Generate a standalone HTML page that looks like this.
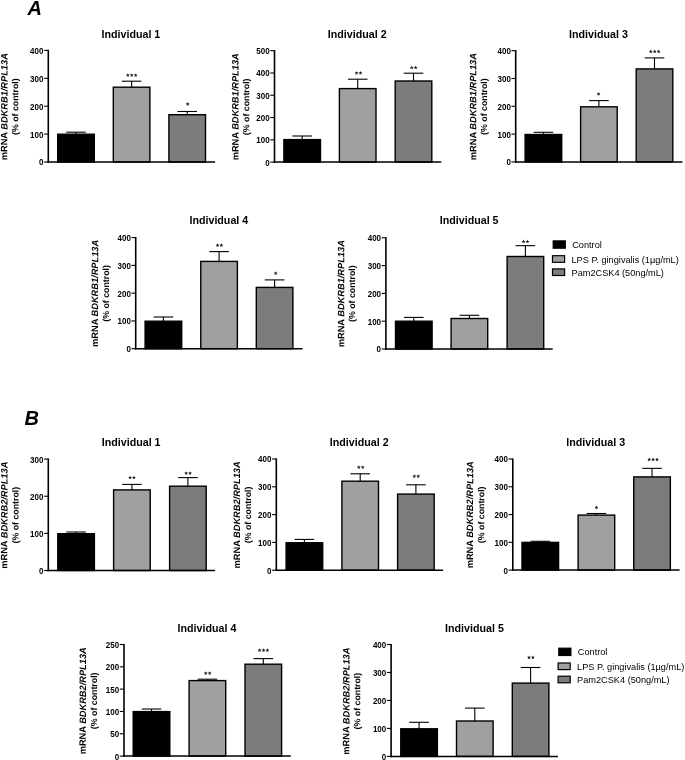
<!DOCTYPE html>
<html><head><meta charset="utf-8"><style>
html,body{margin:0;padding:0;background:#fff;overflow:hidden;}
svg{display:block;will-change:transform;}
text{font-family:"Liberation Sans", sans-serif;fill:#000;}
.tk{font-size:8.6px;font-weight:bold;}
.ti{font-size:10.7px;font-weight:bold;}
.yl1{font-size:9.25px;font-weight:bold;}
.yl2{font-size:8.8px;font-weight:bold;}
.st{font-size:9.5px;fill:#333;}
.lg{font-size:9.2px;}
.pl{font-size:20px;font-weight:bold;font-style:italic;}
</style></head><body>
<svg width="685" height="760" viewBox="0 0 685 760">
<rect width="685" height="760" fill="#fff"/>
<text x="27.4" y="15.2" class="pl">A</text>
<text x="24.4" y="424.8" class="pl">B</text>
<line x1="76.00" y1="134.20" x2="76.00" y2="132.20" stroke="#000" stroke-width="1.1"/>
<line x1="66.20" y1="132.20" x2="85.80" y2="132.20" stroke="#000" stroke-width="1.1"/>
<rect x="57.70" y="134.20" width="36.60" height="27.80" fill="#000000" stroke="#000" stroke-width="1.4"/>
<line x1="131.60" y1="87.20" x2="131.60" y2="81.20" stroke="#000" stroke-width="1.1"/>
<line x1="121.80" y1="81.20" x2="141.40" y2="81.20" stroke="#000" stroke-width="1.1"/>
<rect x="113.30" y="87.20" width="36.60" height="74.80" fill="#a0a0a0" stroke="#000" stroke-width="1.4"/>
<polygon points="127.85,73.15 128.41,74.43 129.80,74.57 128.75,75.49 129.05,76.86 127.85,76.15 126.65,76.86 126.95,75.49 125.90,74.57 127.29,74.43" fill="#222"/>
<polygon points="131.75,73.15 132.31,74.43 133.70,74.57 132.65,75.49 132.95,76.86 131.75,76.15 130.55,76.86 130.85,75.49 129.80,74.57 131.19,74.43" fill="#222"/>
<polygon points="135.65,73.15 136.21,74.43 137.60,74.57 136.55,75.49 136.85,76.86 135.65,76.15 134.45,76.86 134.75,75.49 133.70,74.57 135.09,74.43" fill="#222"/>
<line x1="187.20" y1="114.70" x2="187.20" y2="111.50" stroke="#000" stroke-width="1.1"/>
<line x1="177.40" y1="111.50" x2="197.00" y2="111.50" stroke="#000" stroke-width="1.1"/>
<rect x="168.90" y="114.70" width="36.60" height="47.30" fill="#7c7c7c" stroke="#000" stroke-width="1.4"/>
<polygon points="187.70,102.05 188.26,103.33 189.65,103.47 188.60,104.39 188.90,105.76 187.70,105.05 186.50,105.76 186.80,104.39 185.75,103.47 187.14,103.33" fill="#222"/>
<line x1="48.30" y1="49.80" x2="48.30" y2="162.80" stroke="#000" stroke-width="1.6"/>
<line x1="47.50" y1="162.00" x2="215.10" y2="162.00" stroke="#000" stroke-width="1.5"/>
<line x1="44.10" y1="162.00" x2="48.30" y2="162.00" stroke="#000" stroke-width="1.1"/>
<text x="43.45" y="165.40" text-anchor="end" class="tk" textLength="4.45" lengthAdjust="spacingAndGlyphs">0</text>
<line x1="44.10" y1="134.10" x2="48.30" y2="134.10" stroke="#000" stroke-width="1.1"/>
<text x="43.45" y="137.50" text-anchor="end" class="tk" textLength="13.34" lengthAdjust="spacingAndGlyphs">100</text>
<line x1="44.10" y1="106.20" x2="48.30" y2="106.20" stroke="#000" stroke-width="1.1"/>
<text x="43.45" y="109.60" text-anchor="end" class="tk" textLength="13.34" lengthAdjust="spacingAndGlyphs">200</text>
<line x1="44.10" y1="78.30" x2="48.30" y2="78.30" stroke="#000" stroke-width="1.1"/>
<text x="43.45" y="81.70" text-anchor="end" class="tk" textLength="13.34" lengthAdjust="spacingAndGlyphs">300</text>
<line x1="44.10" y1="50.40" x2="48.30" y2="50.40" stroke="#000" stroke-width="1.1"/>
<text x="43.45" y="53.80" text-anchor="end" class="tk" textLength="13.34" lengthAdjust="spacingAndGlyphs">400</text>
<text x="130.90" y="38.20" text-anchor="middle" class="ti">Individual 1</text>
<text transform="translate(7.40,106.70) rotate(-89.95)" text-anchor="middle" class="yl1">mRNA <tspan font-style="italic">BDKRB1/RPL13A</tspan></text>
<text transform="translate(18.30,106.70) rotate(-89.95)" text-anchor="middle" class="yl2">(% of control)</text>
<line x1="302.20" y1="139.60" x2="302.20" y2="136.00" stroke="#000" stroke-width="1.1"/>
<line x1="292.40" y1="136.00" x2="312.00" y2="136.00" stroke="#000" stroke-width="1.1"/>
<rect x="283.90" y="139.60" width="36.60" height="22.50" fill="#000000" stroke="#000" stroke-width="1.4"/>
<line x1="357.70" y1="88.60" x2="357.70" y2="79.20" stroke="#000" stroke-width="1.1"/>
<line x1="347.90" y1="79.20" x2="367.50" y2="79.20" stroke="#000" stroke-width="1.1"/>
<rect x="339.40" y="88.60" width="36.60" height="73.50" fill="#a0a0a0" stroke="#000" stroke-width="1.4"/>
<polygon points="356.55,71.00 357.11,72.28 358.50,72.42 357.45,73.34 357.75,74.71 356.55,74.00 355.35,74.71 355.65,73.34 354.60,72.42 355.99,72.28" fill="#222"/>
<polygon points="360.45,71.00 361.01,72.28 362.40,72.42 361.35,73.34 361.65,74.71 360.45,74.00 359.25,74.71 359.55,73.34 358.50,72.42 359.89,72.28" fill="#222"/>
<line x1="413.50" y1="81.00" x2="413.50" y2="73.20" stroke="#000" stroke-width="1.1"/>
<line x1="403.70" y1="73.20" x2="423.30" y2="73.20" stroke="#000" stroke-width="1.1"/>
<rect x="395.20" y="81.00" width="36.60" height="81.10" fill="#7c7c7c" stroke="#000" stroke-width="1.4"/>
<polygon points="411.75,65.60 412.31,66.88 413.70,67.02 412.65,67.94 412.95,69.31 411.75,68.60 410.55,69.31 410.85,67.94 409.80,67.02 411.19,66.88" fill="#222"/>
<polygon points="415.65,65.60 416.21,66.88 417.60,67.02 416.55,67.94 416.85,69.31 415.65,68.60 414.45,69.31 414.75,67.94 413.70,67.02 415.09,66.88" fill="#222"/>
<line x1="274.50" y1="50.10" x2="274.50" y2="162.90" stroke="#000" stroke-width="1.6"/>
<line x1="273.70" y1="162.10" x2="441.30" y2="162.10" stroke="#000" stroke-width="1.5"/>
<line x1="270.30" y1="162.10" x2="274.50" y2="162.10" stroke="#000" stroke-width="1.1"/>
<text x="269.65" y="165.50" text-anchor="end" class="tk" textLength="4.45" lengthAdjust="spacingAndGlyphs">0</text>
<line x1="270.30" y1="139.82" x2="274.50" y2="139.82" stroke="#000" stroke-width="1.1"/>
<text x="269.65" y="143.22" text-anchor="end" class="tk" textLength="13.34" lengthAdjust="spacingAndGlyphs">100</text>
<line x1="270.30" y1="117.54" x2="274.50" y2="117.54" stroke="#000" stroke-width="1.1"/>
<text x="269.65" y="120.94" text-anchor="end" class="tk" textLength="13.34" lengthAdjust="spacingAndGlyphs">200</text>
<line x1="270.30" y1="95.26" x2="274.50" y2="95.26" stroke="#000" stroke-width="1.1"/>
<text x="269.65" y="98.66" text-anchor="end" class="tk" textLength="13.34" lengthAdjust="spacingAndGlyphs">300</text>
<line x1="270.30" y1="72.98" x2="274.50" y2="72.98" stroke="#000" stroke-width="1.1"/>
<text x="269.65" y="76.38" text-anchor="end" class="tk" textLength="13.34" lengthAdjust="spacingAndGlyphs">400</text>
<line x1="270.30" y1="50.70" x2="274.50" y2="50.70" stroke="#000" stroke-width="1.1"/>
<text x="269.65" y="54.10" text-anchor="end" class="tk" textLength="13.34" lengthAdjust="spacingAndGlyphs">500</text>
<text x="357.25" y="38.20" text-anchor="middle" class="ti">Individual 2</text>
<text transform="translate(238.50,106.80) rotate(-89.95)" text-anchor="middle" class="yl1">mRNA <tspan font-style="italic">BDKRB1/RPL13A</tspan></text>
<text transform="translate(249.30,106.80) rotate(-89.95)" text-anchor="middle" class="yl2">(% of control)</text>
<line x1="543.40" y1="134.50" x2="543.40" y2="132.30" stroke="#000" stroke-width="1.1"/>
<line x1="533.60" y1="132.30" x2="553.20" y2="132.30" stroke="#000" stroke-width="1.1"/>
<rect x="525.10" y="134.50" width="36.60" height="27.40" fill="#000000" stroke="#000" stroke-width="1.4"/>
<line x1="598.90" y1="106.80" x2="598.90" y2="100.60" stroke="#000" stroke-width="1.1"/>
<line x1="589.10" y1="100.60" x2="608.70" y2="100.60" stroke="#000" stroke-width="1.1"/>
<rect x="580.60" y="106.80" width="36.60" height="55.10" fill="#a0a0a0" stroke="#000" stroke-width="1.4"/>
<polygon points="598.60,91.90 599.16,93.18 600.55,93.32 599.50,94.24 599.80,95.61 598.60,94.90 597.40,95.61 597.70,94.24 596.65,93.32 598.04,93.18" fill="#222"/>
<line x1="654.50" y1="68.90" x2="654.50" y2="57.90" stroke="#000" stroke-width="1.1"/>
<line x1="644.70" y1="57.90" x2="664.30" y2="57.90" stroke="#000" stroke-width="1.1"/>
<rect x="636.20" y="68.90" width="36.60" height="93.00" fill="#7c7c7c" stroke="#000" stroke-width="1.4"/>
<polygon points="650.80,49.50 651.36,50.78 652.75,50.92 651.70,51.84 652.00,53.21 650.80,52.50 649.60,53.21 649.90,51.84 648.85,50.92 650.24,50.78" fill="#222"/>
<polygon points="654.70,49.50 655.26,50.78 656.65,50.92 655.60,51.84 655.90,53.21 654.70,52.50 653.50,53.21 653.80,51.84 652.75,50.92 654.14,50.78" fill="#222"/>
<polygon points="658.60,49.50 659.16,50.78 660.55,50.92 659.50,51.84 659.80,53.21 658.60,52.50 657.40,53.21 657.70,51.84 656.65,50.92 658.04,50.78" fill="#222"/>
<line x1="515.70" y1="50.10" x2="515.70" y2="162.70" stroke="#000" stroke-width="1.6"/>
<line x1="514.90" y1="161.90" x2="682.50" y2="161.90" stroke="#000" stroke-width="1.5"/>
<line x1="511.50" y1="161.90" x2="515.70" y2="161.90" stroke="#000" stroke-width="1.1"/>
<text x="510.85" y="165.30" text-anchor="end" class="tk" textLength="4.45" lengthAdjust="spacingAndGlyphs">0</text>
<line x1="511.50" y1="134.10" x2="515.70" y2="134.10" stroke="#000" stroke-width="1.1"/>
<text x="510.85" y="137.50" text-anchor="end" class="tk" textLength="13.34" lengthAdjust="spacingAndGlyphs">100</text>
<line x1="511.50" y1="106.30" x2="515.70" y2="106.30" stroke="#000" stroke-width="1.1"/>
<text x="510.85" y="109.70" text-anchor="end" class="tk" textLength="13.34" lengthAdjust="spacingAndGlyphs">200</text>
<line x1="511.50" y1="78.50" x2="515.70" y2="78.50" stroke="#000" stroke-width="1.1"/>
<text x="510.85" y="81.90" text-anchor="end" class="tk" textLength="13.34" lengthAdjust="spacingAndGlyphs">300</text>
<line x1="511.50" y1="50.70" x2="515.70" y2="50.70" stroke="#000" stroke-width="1.1"/>
<text x="510.85" y="54.10" text-anchor="end" class="tk" textLength="13.34" lengthAdjust="spacingAndGlyphs">400</text>
<text x="598.50" y="38.20" text-anchor="middle" class="ti">Individual 3</text>
<text transform="translate(476.20,106.60) rotate(-89.95)" text-anchor="middle" class="yl1">mRNA <tspan font-style="italic">BDKRB1/RPL13A</tspan></text>
<text transform="translate(487.00,106.60) rotate(-89.95)" text-anchor="middle" class="yl2">(% of control)</text>
<line x1="163.40" y1="321.20" x2="163.40" y2="317.00" stroke="#000" stroke-width="1.1"/>
<line x1="153.60" y1="317.00" x2="173.20" y2="317.00" stroke="#000" stroke-width="1.1"/>
<rect x="145.10" y="321.20" width="36.60" height="27.50" fill="#000000" stroke="#000" stroke-width="1.4"/>
<line x1="219.07" y1="261.40" x2="219.07" y2="251.60" stroke="#000" stroke-width="1.1"/>
<line x1="209.27" y1="251.60" x2="228.87" y2="251.60" stroke="#000" stroke-width="1.1"/>
<rect x="200.77" y="261.40" width="36.60" height="87.30" fill="#a0a0a0" stroke="#000" stroke-width="1.4"/>
<polygon points="217.50,243.30 218.06,244.58 219.45,244.72 218.40,245.64 218.70,247.01 217.50,246.30 216.30,247.01 216.60,245.64 215.55,244.72 216.94,244.58" fill="#222"/>
<polygon points="221.40,243.30 221.96,244.58 223.35,244.72 222.30,245.64 222.60,247.01 221.40,246.30 220.20,247.01 220.50,245.64 219.45,244.72 220.84,244.58" fill="#222"/>
<line x1="274.60" y1="287.40" x2="274.60" y2="279.90" stroke="#000" stroke-width="1.1"/>
<line x1="264.80" y1="279.90" x2="284.40" y2="279.90" stroke="#000" stroke-width="1.1"/>
<rect x="256.30" y="287.40" width="36.60" height="61.30" fill="#7c7c7c" stroke="#000" stroke-width="1.4"/>
<polygon points="275.70,271.25 276.26,272.53 277.65,272.67 276.60,273.59 276.90,274.96 275.70,274.25 274.50,274.96 274.80,273.59 273.75,272.67 275.14,272.53" fill="#222"/>
<line x1="135.70" y1="237.00" x2="135.70" y2="349.50" stroke="#000" stroke-width="1.6"/>
<line x1="134.90" y1="348.70" x2="302.50" y2="348.70" stroke="#000" stroke-width="1.5"/>
<line x1="131.50" y1="348.70" x2="135.70" y2="348.70" stroke="#000" stroke-width="1.1"/>
<text x="130.85" y="352.10" text-anchor="end" class="tk" textLength="4.45" lengthAdjust="spacingAndGlyphs">0</text>
<line x1="131.50" y1="320.93" x2="135.70" y2="320.93" stroke="#000" stroke-width="1.1"/>
<text x="130.85" y="324.32" text-anchor="end" class="tk" textLength="13.34" lengthAdjust="spacingAndGlyphs">100</text>
<line x1="131.50" y1="293.15" x2="135.70" y2="293.15" stroke="#000" stroke-width="1.1"/>
<text x="130.85" y="296.55" text-anchor="end" class="tk" textLength="13.34" lengthAdjust="spacingAndGlyphs">200</text>
<line x1="131.50" y1="265.38" x2="135.70" y2="265.38" stroke="#000" stroke-width="1.1"/>
<text x="130.85" y="268.77" text-anchor="end" class="tk" textLength="13.34" lengthAdjust="spacingAndGlyphs">300</text>
<line x1="131.50" y1="237.60" x2="135.70" y2="237.60" stroke="#000" stroke-width="1.1"/>
<text x="130.85" y="241.00" text-anchor="end" class="tk" textLength="13.34" lengthAdjust="spacingAndGlyphs">400</text>
<text x="218.85" y="224.30" text-anchor="middle" class="ti">Individual 4</text>
<text transform="translate(98.10,293.40) rotate(-89.95)" text-anchor="middle" class="yl1">mRNA <tspan font-style="italic">BDKRB1/RPL13A</tspan></text>
<text transform="translate(109.10,293.40) rotate(-89.95)" text-anchor="middle" class="yl2">(% of control)</text>
<line x1="413.80" y1="321.20" x2="413.80" y2="317.40" stroke="#000" stroke-width="1.1"/>
<line x1="404.00" y1="317.40" x2="423.60" y2="317.40" stroke="#000" stroke-width="1.1"/>
<rect x="395.50" y="321.20" width="36.60" height="27.80" fill="#000000" stroke="#000" stroke-width="1.4"/>
<line x1="469.40" y1="318.50" x2="469.40" y2="315.30" stroke="#000" stroke-width="1.1"/>
<line x1="459.60" y1="315.30" x2="479.20" y2="315.30" stroke="#000" stroke-width="1.1"/>
<rect x="451.10" y="318.50" width="36.60" height="30.50" fill="#a0a0a0" stroke="#000" stroke-width="1.4"/>
<line x1="525.40" y1="256.50" x2="525.40" y2="245.66" stroke="#000" stroke-width="1.1"/>
<line x1="515.60" y1="245.66" x2="535.20" y2="245.66" stroke="#000" stroke-width="1.1"/>
<rect x="507.10" y="256.50" width="36.60" height="92.50" fill="#7c7c7c" stroke="#000" stroke-width="1.4"/>
<polygon points="523.55,239.60 524.11,240.88 525.50,241.02 524.45,241.94 524.75,243.31 523.55,242.60 522.35,243.31 522.65,241.94 521.60,241.02 522.99,240.88" fill="#222"/>
<polygon points="527.45,239.60 528.01,240.88 529.40,241.02 528.35,241.94 528.65,243.31 527.45,242.60 526.25,243.31 526.55,241.94 525.50,241.02 526.89,240.88" fill="#222"/>
<line x1="385.90" y1="237.20" x2="385.90" y2="349.80" stroke="#000" stroke-width="1.6"/>
<line x1="385.10" y1="349.00" x2="552.70" y2="349.00" stroke="#000" stroke-width="1.5"/>
<line x1="381.70" y1="349.00" x2="385.90" y2="349.00" stroke="#000" stroke-width="1.1"/>
<text x="381.05" y="352.40" text-anchor="end" class="tk" textLength="4.45" lengthAdjust="spacingAndGlyphs">0</text>
<line x1="381.70" y1="321.20" x2="385.90" y2="321.20" stroke="#000" stroke-width="1.1"/>
<text x="381.05" y="324.60" text-anchor="end" class="tk" textLength="13.34" lengthAdjust="spacingAndGlyphs">100</text>
<line x1="381.70" y1="293.40" x2="385.90" y2="293.40" stroke="#000" stroke-width="1.1"/>
<text x="381.05" y="296.80" text-anchor="end" class="tk" textLength="13.34" lengthAdjust="spacingAndGlyphs">200</text>
<line x1="381.70" y1="265.60" x2="385.90" y2="265.60" stroke="#000" stroke-width="1.1"/>
<text x="381.05" y="269.00" text-anchor="end" class="tk" textLength="13.34" lengthAdjust="spacingAndGlyphs">300</text>
<line x1="381.70" y1="237.80" x2="385.90" y2="237.80" stroke="#000" stroke-width="1.1"/>
<text x="381.05" y="241.20" text-anchor="end" class="tk" textLength="13.34" lengthAdjust="spacingAndGlyphs">400</text>
<text x="469.15" y="224.30" text-anchor="middle" class="ti">Individual 5</text>
<text transform="translate(344.20,293.70) rotate(-89.95)" text-anchor="middle" class="yl1">mRNA <tspan font-style="italic">BDKRB1/RPL13A</tspan></text>
<text transform="translate(355.00,293.70) rotate(-89.95)" text-anchor="middle" class="yl2">(% of control)</text>
<line x1="76.10" y1="533.70" x2="76.10" y2="532.00" stroke="#000" stroke-width="1.1"/>
<line x1="66.30" y1="532.00" x2="85.90" y2="532.00" stroke="#000" stroke-width="1.1"/>
<rect x="57.80" y="533.70" width="36.60" height="36.80" fill="#000000" stroke="#000" stroke-width="1.4"/>
<line x1="131.90" y1="489.90" x2="131.90" y2="484.40" stroke="#000" stroke-width="1.1"/>
<line x1="122.10" y1="484.40" x2="141.70" y2="484.40" stroke="#000" stroke-width="1.1"/>
<rect x="113.60" y="489.90" width="36.60" height="80.60" fill="#a0a0a0" stroke="#000" stroke-width="1.4"/>
<polygon points="130.05,475.60 130.61,476.88 132.00,477.02 130.95,477.94 131.25,479.31 130.05,478.60 128.85,479.31 129.15,477.94 128.10,477.02 129.49,476.88" fill="#222"/>
<polygon points="133.95,475.60 134.51,476.88 135.90,477.02 134.85,477.94 135.15,479.31 133.95,478.60 132.75,479.31 133.05,477.94 132.00,477.02 133.39,476.88" fill="#222"/>
<line x1="187.90" y1="486.20" x2="187.90" y2="477.60" stroke="#000" stroke-width="1.1"/>
<line x1="178.10" y1="477.60" x2="197.70" y2="477.60" stroke="#000" stroke-width="1.1"/>
<rect x="169.60" y="486.20" width="36.60" height="84.30" fill="#7c7c7c" stroke="#000" stroke-width="1.4"/>
<polygon points="186.15,471.15 186.71,472.43 188.10,472.57 187.05,473.49 187.35,474.86 186.15,474.15 184.95,474.86 185.25,473.49 184.20,472.57 185.59,472.43" fill="#222"/>
<polygon points="190.05,471.15 190.61,472.43 192.00,472.57 190.95,473.49 191.25,474.86 190.05,474.15 188.85,474.86 189.15,473.49 188.10,472.57 189.49,472.43" fill="#222"/>
<line x1="48.30" y1="458.50" x2="48.30" y2="571.30" stroke="#000" stroke-width="1.6"/>
<line x1="47.50" y1="570.50" x2="215.10" y2="570.50" stroke="#000" stroke-width="1.5"/>
<line x1="44.10" y1="570.50" x2="48.30" y2="570.50" stroke="#000" stroke-width="1.1"/>
<text x="43.45" y="573.90" text-anchor="end" class="tk" textLength="4.45" lengthAdjust="spacingAndGlyphs">0</text>
<line x1="44.10" y1="533.37" x2="48.30" y2="533.37" stroke="#000" stroke-width="1.1"/>
<text x="43.45" y="536.77" text-anchor="end" class="tk" textLength="13.34" lengthAdjust="spacingAndGlyphs">100</text>
<line x1="44.10" y1="496.23" x2="48.30" y2="496.23" stroke="#000" stroke-width="1.1"/>
<text x="43.45" y="499.63" text-anchor="end" class="tk" textLength="13.34" lengthAdjust="spacingAndGlyphs">200</text>
<line x1="44.10" y1="459.10" x2="48.30" y2="459.10" stroke="#000" stroke-width="1.1"/>
<text x="43.45" y="462.50" text-anchor="end" class="tk" textLength="13.34" lengthAdjust="spacingAndGlyphs">300</text>
<text x="131.15" y="446.20" text-anchor="middle" class="ti">Individual 1</text>
<text transform="translate(7.40,515.20) rotate(-89.95)" text-anchor="middle" class="yl1">mRNA <tspan font-style="italic">BDKRB2/RPL13A</tspan></text>
<text transform="translate(18.50,515.20) rotate(-89.95)" text-anchor="middle" class="yl2">(% of control)</text>
<line x1="304.40" y1="542.75" x2="304.40" y2="539.40" stroke="#000" stroke-width="1.1"/>
<line x1="294.60" y1="539.40" x2="314.20" y2="539.40" stroke="#000" stroke-width="1.1"/>
<rect x="286.10" y="542.75" width="36.60" height="27.45" fill="#000000" stroke="#000" stroke-width="1.4"/>
<line x1="360.20" y1="481.20" x2="360.20" y2="473.80" stroke="#000" stroke-width="1.1"/>
<line x1="350.40" y1="473.80" x2="370.00" y2="473.80" stroke="#000" stroke-width="1.1"/>
<rect x="341.90" y="481.20" width="36.60" height="89.00" fill="#a0a0a0" stroke="#000" stroke-width="1.4"/>
<polygon points="358.80,465.15 359.36,466.43 360.75,466.57 359.70,467.49 360.00,468.86 358.80,468.15 357.60,468.86 357.90,467.49 356.85,466.57 358.24,466.43" fill="#222"/>
<polygon points="362.70,465.15 363.26,466.43 364.65,466.57 363.60,467.49 363.90,468.86 362.70,468.15 361.50,468.86 361.80,467.49 360.75,466.57 362.14,466.43" fill="#222"/>
<line x1="415.90" y1="494.10" x2="415.90" y2="484.80" stroke="#000" stroke-width="1.1"/>
<line x1="406.10" y1="484.80" x2="425.70" y2="484.80" stroke="#000" stroke-width="1.1"/>
<rect x="397.60" y="494.10" width="36.60" height="76.10" fill="#7c7c7c" stroke="#000" stroke-width="1.4"/>
<polygon points="414.30,474.20 414.86,475.48 416.25,475.62 415.20,476.54 415.50,477.91 414.30,477.20 413.10,477.91 413.40,476.54 412.35,475.62 413.74,475.48" fill="#222"/>
<polygon points="418.20,474.20 418.76,475.48 420.15,475.62 419.10,476.54 419.40,477.91 418.20,477.20 417.00,477.91 417.30,476.54 416.25,475.62 417.64,475.48" fill="#222"/>
<line x1="276.30" y1="458.40" x2="276.30" y2="571.00" stroke="#000" stroke-width="1.6"/>
<line x1="275.50" y1="570.20" x2="443.10" y2="570.20" stroke="#000" stroke-width="1.5"/>
<line x1="272.10" y1="570.20" x2="276.30" y2="570.20" stroke="#000" stroke-width="1.1"/>
<text x="271.45" y="573.60" text-anchor="end" class="tk" textLength="4.45" lengthAdjust="spacingAndGlyphs">0</text>
<line x1="272.10" y1="542.40" x2="276.30" y2="542.40" stroke="#000" stroke-width="1.1"/>
<text x="271.45" y="545.80" text-anchor="end" class="tk" textLength="13.34" lengthAdjust="spacingAndGlyphs">100</text>
<line x1="272.10" y1="514.60" x2="276.30" y2="514.60" stroke="#000" stroke-width="1.1"/>
<text x="271.45" y="518.00" text-anchor="end" class="tk" textLength="13.34" lengthAdjust="spacingAndGlyphs">200</text>
<line x1="272.10" y1="486.80" x2="276.30" y2="486.80" stroke="#000" stroke-width="1.1"/>
<text x="271.45" y="490.20" text-anchor="end" class="tk" textLength="13.34" lengthAdjust="spacingAndGlyphs">300</text>
<line x1="272.10" y1="459.00" x2="276.30" y2="459.00" stroke="#000" stroke-width="1.1"/>
<text x="271.45" y="462.40" text-anchor="end" class="tk" textLength="13.34" lengthAdjust="spacingAndGlyphs">400</text>
<text x="359.25" y="446.20" text-anchor="middle" class="ti">Individual 2</text>
<text transform="translate(240.00,514.90) rotate(-89.95)" text-anchor="middle" class="yl1">mRNA <tspan font-style="italic">BDKRB2/RPL13A</tspan></text>
<text transform="translate(251.10,514.90) rotate(-89.95)" text-anchor="middle" class="yl2">(% of control)</text>
<line x1="540.30" y1="542.40" x2="540.30" y2="541.30" stroke="#000" stroke-width="1.1"/>
<line x1="530.50" y1="541.30" x2="550.10" y2="541.30" stroke="#000" stroke-width="1.1"/>
<rect x="522.00" y="542.40" width="36.60" height="27.70" fill="#000000" stroke="#000" stroke-width="1.4"/>
<line x1="596.40" y1="515.10" x2="596.40" y2="513.50" stroke="#000" stroke-width="1.1"/>
<line x1="586.60" y1="513.50" x2="606.20" y2="513.50" stroke="#000" stroke-width="1.1"/>
<rect x="578.10" y="515.10" width="36.60" height="55.00" fill="#a0a0a0" stroke="#000" stroke-width="1.4"/>
<polygon points="596.50,505.50 597.06,506.78 598.45,506.92 597.40,507.84 597.70,509.21 596.50,508.50 595.30,509.21 595.60,507.84 594.55,506.92 595.94,506.78" fill="#222"/>
<line x1="652.05" y1="476.90" x2="652.05" y2="468.35" stroke="#000" stroke-width="1.1"/>
<line x1="642.25" y1="468.35" x2="661.85" y2="468.35" stroke="#000" stroke-width="1.1"/>
<rect x="633.75" y="476.90" width="36.60" height="93.20" fill="#7c7c7c" stroke="#000" stroke-width="1.4"/>
<polygon points="649.20,457.50 649.76,458.78 651.15,458.92 650.10,459.84 650.40,461.21 649.20,460.50 648.00,461.21 648.30,459.84 647.25,458.92 648.64,458.78" fill="#222"/>
<polygon points="653.10,457.50 653.66,458.78 655.05,458.92 654.00,459.84 654.30,461.21 653.10,460.50 651.90,461.21 652.20,459.84 651.15,458.92 652.54,458.78" fill="#222"/>
<polygon points="657.00,457.50 657.56,458.78 658.95,458.92 657.90,459.84 658.20,461.21 657.00,460.50 655.80,461.21 656.10,459.84 655.05,458.92 656.44,458.78" fill="#222"/>
<line x1="512.80" y1="458.40" x2="512.80" y2="570.90" stroke="#000" stroke-width="1.6"/>
<line x1="512.00" y1="570.10" x2="679.60" y2="570.10" stroke="#000" stroke-width="1.5"/>
<line x1="508.60" y1="570.10" x2="512.80" y2="570.10" stroke="#000" stroke-width="1.1"/>
<text x="507.95" y="573.50" text-anchor="end" class="tk" textLength="4.45" lengthAdjust="spacingAndGlyphs">0</text>
<line x1="508.60" y1="542.33" x2="512.80" y2="542.33" stroke="#000" stroke-width="1.1"/>
<text x="507.95" y="545.73" text-anchor="end" class="tk" textLength="13.34" lengthAdjust="spacingAndGlyphs">100</text>
<line x1="508.60" y1="514.55" x2="512.80" y2="514.55" stroke="#000" stroke-width="1.1"/>
<text x="507.95" y="517.95" text-anchor="end" class="tk" textLength="13.34" lengthAdjust="spacingAndGlyphs">200</text>
<line x1="508.60" y1="486.77" x2="512.80" y2="486.77" stroke="#000" stroke-width="1.1"/>
<text x="507.95" y="490.17" text-anchor="end" class="tk" textLength="13.34" lengthAdjust="spacingAndGlyphs">300</text>
<line x1="508.60" y1="459.00" x2="512.80" y2="459.00" stroke="#000" stroke-width="1.1"/>
<text x="507.95" y="462.40" text-anchor="end" class="tk" textLength="13.34" lengthAdjust="spacingAndGlyphs">400</text>
<text x="595.75" y="446.20" text-anchor="middle" class="ti">Individual 3</text>
<text transform="translate(473.10,514.80) rotate(-89.95)" text-anchor="middle" class="yl1">mRNA <tspan font-style="italic">BDKRB2/RPL13A</tspan></text>
<text transform="translate(484.20,514.80) rotate(-89.95)" text-anchor="middle" class="yl2">(% of control)</text>
<line x1="151.50" y1="711.60" x2="151.50" y2="709.00" stroke="#000" stroke-width="1.1"/>
<line x1="141.70" y1="709.00" x2="161.30" y2="709.00" stroke="#000" stroke-width="1.1"/>
<rect x="133.20" y="711.60" width="36.60" height="44.50" fill="#000000" stroke="#000" stroke-width="1.4"/>
<line x1="207.40" y1="680.60" x2="207.40" y2="679.20" stroke="#000" stroke-width="1.1"/>
<line x1="197.60" y1="679.20" x2="217.20" y2="679.20" stroke="#000" stroke-width="1.1"/>
<rect x="189.10" y="680.60" width="36.60" height="75.50" fill="#a0a0a0" stroke="#000" stroke-width="1.4"/>
<polygon points="205.75,671.15 206.31,672.43 207.70,672.57 206.65,673.49 206.95,674.86 205.75,674.15 204.55,674.86 204.85,673.49 203.80,672.57 205.19,672.43" fill="#222"/>
<polygon points="209.65,671.15 210.21,672.43 211.60,672.57 210.55,673.49 210.85,674.86 209.65,674.15 208.45,674.86 208.75,673.49 207.70,672.57 209.09,672.43" fill="#222"/>
<line x1="263.30" y1="664.20" x2="263.30" y2="658.60" stroke="#000" stroke-width="1.1"/>
<line x1="253.50" y1="658.60" x2="273.10" y2="658.60" stroke="#000" stroke-width="1.1"/>
<rect x="245.00" y="664.20" width="36.60" height="91.90" fill="#7c7c7c" stroke="#000" stroke-width="1.4"/>
<polygon points="259.60,648.20 260.16,649.48 261.55,649.62 260.50,650.54 260.80,651.91 259.60,651.20 258.40,651.91 258.70,650.54 257.65,649.62 259.04,649.48" fill="#222"/>
<polygon points="263.50,648.20 264.06,649.48 265.45,649.62 264.40,650.54 264.70,651.91 263.50,651.20 262.30,651.91 262.60,650.54 261.55,649.62 262.94,649.48" fill="#222"/>
<polygon points="267.40,648.20 267.96,649.48 269.35,649.62 268.30,650.54 268.60,651.91 267.40,651.20 266.20,651.91 266.50,650.54 265.45,649.62 266.84,649.48" fill="#222"/>
<line x1="124.00" y1="643.90" x2="124.00" y2="756.90" stroke="#000" stroke-width="1.6"/>
<line x1="123.20" y1="756.10" x2="290.80" y2="756.10" stroke="#000" stroke-width="1.5"/>
<line x1="119.80" y1="756.10" x2="124.00" y2="756.10" stroke="#000" stroke-width="1.1"/>
<text x="119.15" y="759.50" text-anchor="end" class="tk" textLength="4.45" lengthAdjust="spacingAndGlyphs">0</text>
<line x1="119.80" y1="733.78" x2="124.00" y2="733.78" stroke="#000" stroke-width="1.1"/>
<text x="119.15" y="737.18" text-anchor="end" class="tk" textLength="8.89" lengthAdjust="spacingAndGlyphs">50</text>
<line x1="119.80" y1="711.46" x2="124.00" y2="711.46" stroke="#000" stroke-width="1.1"/>
<text x="119.15" y="714.86" text-anchor="end" class="tk" textLength="13.34" lengthAdjust="spacingAndGlyphs">100</text>
<line x1="119.80" y1="689.14" x2="124.00" y2="689.14" stroke="#000" stroke-width="1.1"/>
<text x="119.15" y="692.54" text-anchor="end" class="tk" textLength="13.34" lengthAdjust="spacingAndGlyphs">150</text>
<line x1="119.80" y1="666.82" x2="124.00" y2="666.82" stroke="#000" stroke-width="1.1"/>
<text x="119.15" y="670.22" text-anchor="end" class="tk" textLength="13.34" lengthAdjust="spacingAndGlyphs">200</text>
<line x1="119.80" y1="644.50" x2="124.00" y2="644.50" stroke="#000" stroke-width="1.1"/>
<text x="119.15" y="647.90" text-anchor="end" class="tk" textLength="13.34" lengthAdjust="spacingAndGlyphs">250</text>
<text x="207.00" y="632.40" text-anchor="middle" class="ti">Individual 4</text>
<text transform="translate(85.90,700.80) rotate(-89.95)" text-anchor="middle" class="yl1">mRNA <tspan font-style="italic">BDKRB2/RPL13A</tspan></text>
<text transform="translate(97.00,700.80) rotate(-89.95)" text-anchor="middle" class="yl2">(% of control)</text>
<line x1="419.07" y1="728.80" x2="419.07" y2="722.30" stroke="#000" stroke-width="1.1"/>
<line x1="409.27" y1="722.30" x2="428.87" y2="722.30" stroke="#000" stroke-width="1.1"/>
<rect x="400.77" y="728.80" width="36.60" height="27.60" fill="#000000" stroke="#000" stroke-width="1.4"/>
<line x1="474.80" y1="721.00" x2="474.80" y2="708.10" stroke="#000" stroke-width="1.1"/>
<line x1="465.00" y1="708.10" x2="484.60" y2="708.10" stroke="#000" stroke-width="1.1"/>
<rect x="456.50" y="721.00" width="36.60" height="35.40" fill="#a0a0a0" stroke="#000" stroke-width="1.4"/>
<line x1="530.60" y1="683.10" x2="530.60" y2="667.50" stroke="#000" stroke-width="1.1"/>
<line x1="520.80" y1="667.50" x2="540.40" y2="667.50" stroke="#000" stroke-width="1.1"/>
<rect x="512.30" y="683.10" width="36.60" height="73.30" fill="#7c7c7c" stroke="#000" stroke-width="1.4"/>
<polygon points="529.00,655.45 529.56,656.73 530.95,656.87 529.90,657.79 530.20,659.16 529.00,658.45 527.80,659.16 528.10,657.79 527.05,656.87 528.44,656.73" fill="#222"/>
<polygon points="532.90,655.45 533.46,656.73 534.85,656.87 533.80,657.79 534.10,659.16 532.90,658.45 531.70,659.16 532.00,657.79 530.95,656.87 532.34,656.73" fill="#222"/>
<line x1="391.10" y1="643.90" x2="391.10" y2="757.20" stroke="#000" stroke-width="1.6"/>
<line x1="390.30" y1="756.40" x2="557.90" y2="756.40" stroke="#000" stroke-width="1.5"/>
<line x1="386.90" y1="756.40" x2="391.10" y2="756.40" stroke="#000" stroke-width="1.1"/>
<text x="386.25" y="759.80" text-anchor="end" class="tk" textLength="4.45" lengthAdjust="spacingAndGlyphs">0</text>
<line x1="386.90" y1="728.42" x2="391.10" y2="728.42" stroke="#000" stroke-width="1.1"/>
<text x="386.25" y="731.82" text-anchor="end" class="tk" textLength="13.34" lengthAdjust="spacingAndGlyphs">100</text>
<line x1="386.90" y1="700.45" x2="391.10" y2="700.45" stroke="#000" stroke-width="1.1"/>
<text x="386.25" y="703.85" text-anchor="end" class="tk" textLength="13.34" lengthAdjust="spacingAndGlyphs">200</text>
<line x1="386.90" y1="672.48" x2="391.10" y2="672.48" stroke="#000" stroke-width="1.1"/>
<text x="386.25" y="675.88" text-anchor="end" class="tk" textLength="13.34" lengthAdjust="spacingAndGlyphs">300</text>
<line x1="386.90" y1="644.50" x2="391.10" y2="644.50" stroke="#000" stroke-width="1.1"/>
<text x="386.25" y="647.90" text-anchor="end" class="tk" textLength="13.34" lengthAdjust="spacingAndGlyphs">400</text>
<text x="474.45" y="632.40" text-anchor="middle" class="ti">Individual 5</text>
<text transform="translate(349.40,701.10) rotate(-89.95)" text-anchor="middle" class="yl1">mRNA <tspan font-style="italic">BDKRB2/RPL13A</tspan></text>
<text transform="translate(360.20,701.10) rotate(-89.95)" text-anchor="middle" class="yl2">(% of control)</text>
<rect x="553.20" y="240.90" width="12.1" height="7.3" fill="#000000" stroke="#000" stroke-width="1.2"/>
<text x="572.20" y="247.70" class="lg">Control</text>
<rect x="552.50" y="255.70" width="12.1" height="6.6" fill="#a0a0a0" stroke="#000" stroke-width="1.2"/>
<text x="571.50" y="262.50" class="lg">LPS P. gingivalis (1µg/mL)</text>
<rect x="552.50" y="268.90" width="12.1" height="6.6" fill="#7c7c7c" stroke="#000" stroke-width="1.2"/>
<text x="571.50" y="275.70" class="lg">Pam2CSK4 (50ng/mL)</text>
<rect x="558.80" y="648.20" width="12.1" height="7.3" fill="#000000" stroke="#000" stroke-width="1.2"/>
<text x="577.80" y="655.00" class="lg">Control</text>
<rect x="558.10" y="663.00" width="12.1" height="6.6" fill="#a0a0a0" stroke="#000" stroke-width="1.2"/>
<text x="577.10" y="669.80" class="lg">LPS P. gingivalis (1µg/mL)</text>
<rect x="558.10" y="676.20" width="12.1" height="6.6" fill="#7c7c7c" stroke="#000" stroke-width="1.2"/>
<text x="577.10" y="683.00" class="lg">Pam2CSK4 (50ng/mL)</text>
</svg>
</body></html>
